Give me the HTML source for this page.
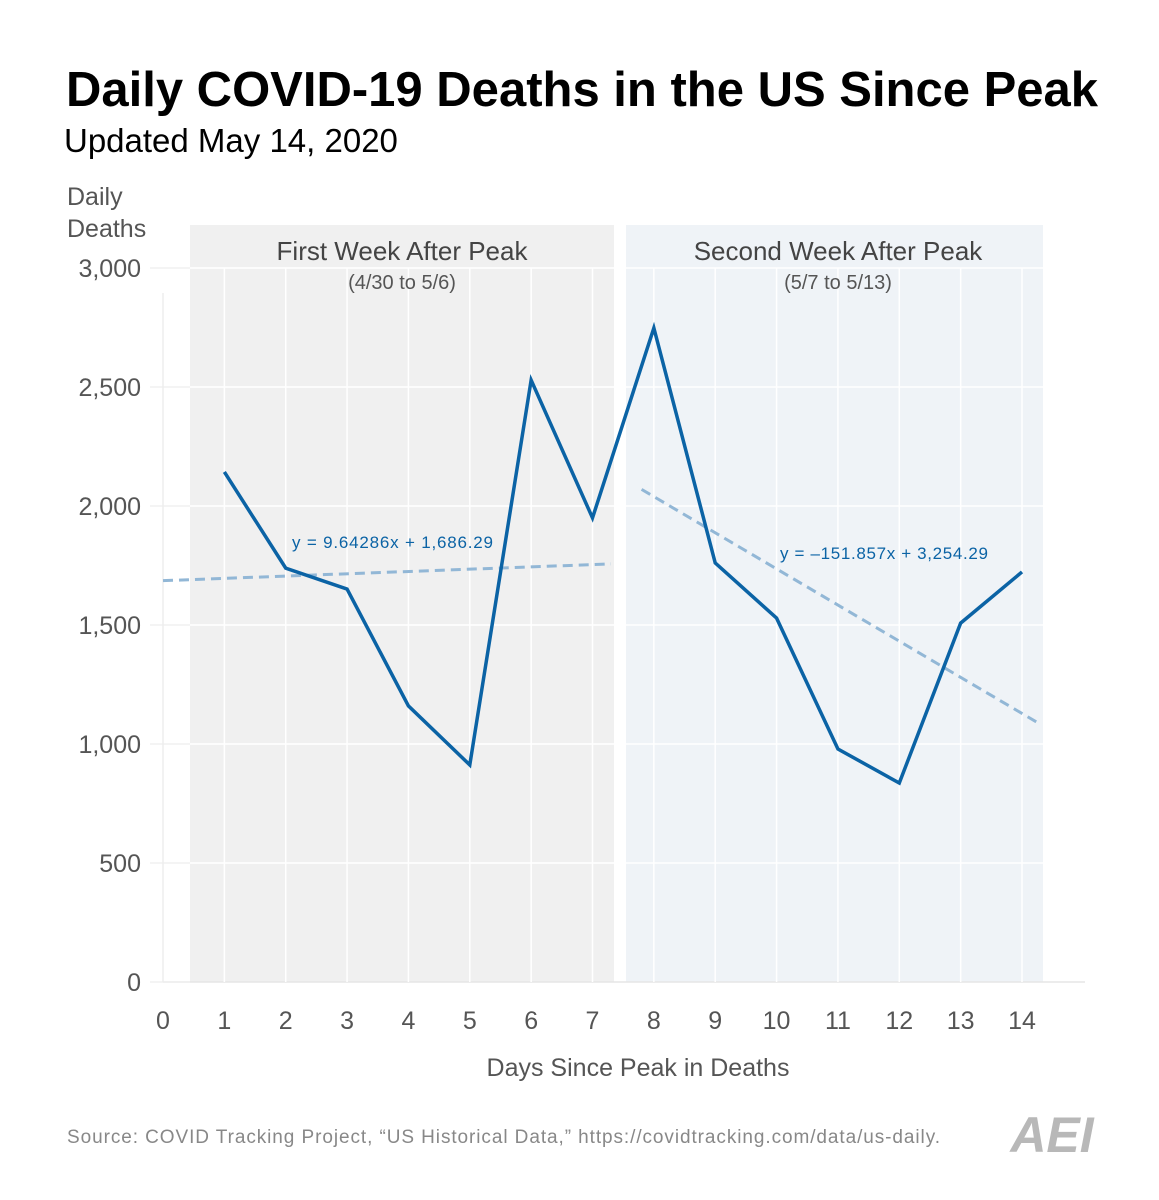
<!DOCTYPE html>
<html><head><meta charset="utf-8"><style>
body{margin:0;background:#fff;}
svg{display:block;font-family:"Liberation Sans",sans-serif;}
</style></head><body>
<svg width="1159" height="1200" viewBox="0 0 1159 1200">
<text x="582" y="106" text-anchor="middle" font-size="49" font-weight="bold" fill="#000">Daily COVID-19 Deaths in the US Since Peak</text>
<text x="64" y="152" font-size="33" fill="#000">Updated May 14, 2020</text>
<text x="67" y="205" font-size="25" fill="#555">Daily</text>
<text x="67" y="237" font-size="25" fill="#555">Deaths</text>
<rect x="190" y="225" width="424" height="757" fill="#f0f0f0"/>
<rect x="626" y="225" width="417" height="757" fill="#eff3f7"/>
<g id="grid"></g>
<text x="402" y="260" text-anchor="middle" font-size="26" fill="#444">First Week After Peak</text>
<text x="402" y="289" text-anchor="middle" font-size="20" fill="#555">(4/30 to 5/6)</text>
<text x="838" y="260" text-anchor="middle" font-size="26" fill="#444">Second Week After Peak</text>
<text x="838" y="289" text-anchor="middle" font-size="20" fill="#555">(5/7 to 5/13)</text>
<g id="axes"></g>
<g id="marks"></g>
<text x="292" y="548" font-size="17" textLength="201" fill="#0b63a5">y = 9.64286x + 1,686.29</text>
<text x="780" y="559" font-size="17" textLength="208" fill="#0b63a5">y = –151.857x + 3,254.29</text>
<text x="638" y="1076" text-anchor="middle" font-size="25" fill="#555">Days Since Peak in Deaths</text>
<text x="67" y="1143" font-size="19" textLength="873" fill="#888">Source: COVID Tracking Project, “US Historical Data,” https://covidtracking.com/data/us-daily.</text>
<text x="1052" y="1152" text-anchor="middle" font-size="50" font-weight="bold" font-style="italic" fill="#b8b8b8">AEI</text>
</svg>
<script>
const days=[1,2,3,4,5,6,7,8,9,10,11,12,13,14];
const deaths=[2143,1739,1651,1160,912,2529,1950,2748,1761,1529,979,836,1508,1723];
const yTicks=[0,500,1000,1500,2000,2500,3000];
const yTickLabels=["0","500","1,000","1,500","2,000","2,500","3,000"];
const xTicks=[0,1,2,3,4,5,6,7,8,9,10,11,12,13,14];
const trend1=[9.64286,1686.29,0,7.3];
const trend2=[-151.857,3254.29,7.8,14.3];
const NS="http://www.w3.org/2000/svg";
const X=v=>163+v*(1022-163)/14;
const Y=v=>982-v*714/3000;
function mk(t,a,p){const e=document.createElementNS(NS,t);for(const k in a)e.setAttribute(k,a[k]);p.appendChild(e);return e;}
const grid=document.getElementById('grid'),axes=document.getElementById('axes'),marks=document.getElementById('marks');
yTicks.forEach((v,i)=>{
  const l=mk('line',{x1:163,x2:1085,y1:Y(v),y2:Y(v),stroke:v===0?'#e6e6e6':'#ffffff','stroke-width':1.5},grid);
  
  
  const o=mk('line',{x1:150,x2:190,y1:Y(v),y2:Y(v),stroke:'#f0f0f0','stroke-width':1.5},grid);
  
  
  const t=mk('text',{x:141,y:Y(v)+9,'text-anchor':'end','font-size':25,fill:'#555'},axes);
  t.textContent=yTickLabels[i];
  
  
});
xTicks.forEach(v=>{
  if(v>0){const l=mk('line',{x1:X(v),x2:X(v),y1:268,y2:982,stroke:'#ffffff','stroke-width':1.5},grid);
  
  }
  const t=mk('text',{x:X(v),y:1029,'text-anchor':'middle','font-size':25,fill:'#555'},axes);
  t.textContent=String(v);
  
  
});
const ax=mk('line',{x1:163,x2:163,y1:293,y2:982,stroke:'#eeeeee','stroke-width':1.5},axes);


[trend1,trend2].forEach((tr,i)=>{
  const l=mk('line',{x1:X(tr[2]),y1:Y(tr[0]*tr[2]+tr[1]),x2:X(tr[3]),y2:Y(tr[0]*tr[3]+tr[1]),stroke:'#92b7d6','stroke-width':3,'stroke-dasharray':'10 6'},marks);
  
  
});
const pl=mk('polyline',{points:days.map((d,i)=>X(d)+','+Y(deaths[i])).join(' '),fill:'none',stroke:'#0b63a5','stroke-width':3.5,'stroke-linejoin':'miter'},marks);


</script>
</body></html>
